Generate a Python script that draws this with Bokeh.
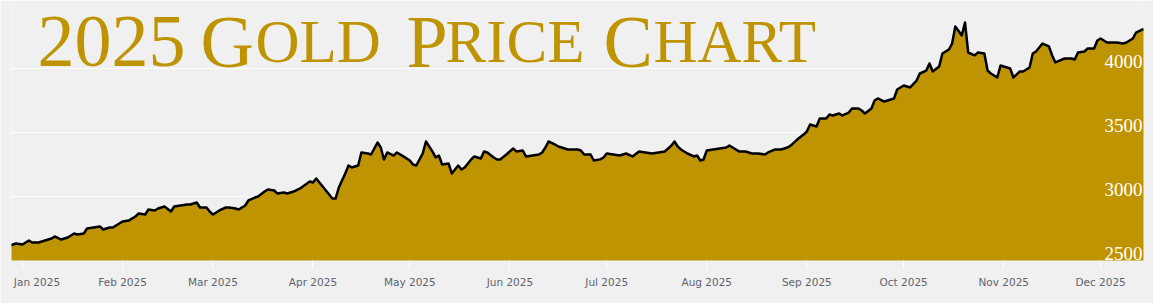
from datetime import datetime
import pandas as pd
from bokeh.plotting import figure
from bokeh.models import Range1d, FixedTicker, Label, Grid, ColumnDataSource, DatetimeTickFormatter
from bokeh.core.properties import value
from bokeh.embed import file_html
from bokeh.resources import INLINE

dates = [
    "2024-12-28", "2024-12-30", "2025-01-01", "2025-01-03", "2025-01-04", "2025-01-06",
    "2025-01-08", "2025-01-10", "2025-01-11", "2025-01-13", "2025-01-15", "2025-01-17",
    "2025-01-18", "2025-01-20", "2025-01-21", "2025-01-23", "2025-01-25", "2025-01-26",
    "2025-01-28", "2025-01-29", "2025-01-31",
    "2025-02-01", "2025-02-03", "2025-02-05", "2025-02-06", "2025-02-08", "2025-02-09",
    "2025-02-11", "2025-02-12", "2025-02-14", "2025-02-16", "2025-02-17", "2025-02-19",
    "2025-02-21", "2025-02-22", "2025-02-24", "2025-02-25", "2025-02-27", "2025-02-28",
    "2025-03-01", "2025-03-03", "2025-03-05", "2025-03-06", "2025-03-08", "2025-03-09",
    "2025-03-11", "2025-03-12", "2025-03-14", "2025-03-15", "2025-03-17", "2025-03-18",
    "2025-03-20", "2025-03-21", "2025-03-23", "2025-03-24", "2025-03-26", "2025-03-28",
    "2025-03-31",
    "2025-04-01", "2025-04-02", "2025-04-03", "2025-04-05", "2025-04-07", "2025-04-08",
    "2025-04-09", "2025-04-11", "2025-04-12", "2025-04-13", "2025-04-15", "2025-04-16",
    "2025-04-18", "2025-04-19", "2025-04-21", "2025-04-22", "2025-04-23", "2025-04-24",
    "2025-04-26", "2025-04-27", "2025-04-29",
    "2025-05-01", "2025-05-02", "2025-05-03", "2025-05-05", "2025-05-06", "2025-05-08",
    "2025-05-09", "2025-05-10", "2025-05-11", "2025-05-13", "2025-05-14", "2025-05-16",
    "2025-05-17", "2025-05-18", "2025-05-20", "2025-05-21", "2025-05-23", "2025-05-24",
    "2025-05-25", "2025-05-27", "2025-05-28", "2025-05-29", "2025-05-31",
    "2025-06-02", "2025-06-03", "2025-06-05", "2025-06-06", "2025-06-08", "2025-06-10",
    "2025-06-11", "2025-06-12", "2025-06-13", "2025-06-15", "2025-06-16", "2025-06-17",
    "2025-06-19", "2025-06-20", "2025-06-22", "2025-06-23", "2025-06-24", "2025-06-26",
    "2025-06-27", "2025-06-29", "2025-06-30",
    "2025-07-01", "2025-07-03", "2025-07-05", "2025-07-07", "2025-07-09", "2025-07-11",
    "2025-07-13", "2025-07-15", "2025-07-17", "2025-07-19", "2025-07-21", "2025-07-22",
    "2025-07-23", "2025-07-24", "2025-07-26", "2025-07-28", "2025-07-29", "2025-07-30",
    "2025-07-31",
    "2025-08-01", "2025-08-03", "2025-08-05", "2025-08-07", "2025-08-08", "2025-08-10",
    "2025-08-11", "2025-08-13", "2025-08-15", "2025-08-17", "2025-08-19", "2025-08-20",
    "2025-08-22", "2025-08-24", "2025-08-26", "2025-08-27", "2025-08-29", "2025-08-31",
    "2025-09-01", "2025-09-02", "2025-09-04", "2025-09-05", "2025-09-07", "2025-09-08",
    "2025-09-09", "2025-09-11", "2025-09-12", "2025-09-14", "2025-09-15", "2025-09-17",
    "2025-09-18", "2025-09-19", "2025-09-21", "2025-09-22", "2025-09-23", "2025-09-25",
    "2025-09-26", "2025-09-28", "2025-09-29",
    "2025-10-01", "2025-10-03", "2025-10-05", "2025-10-06", "2025-10-08", "2025-10-09",
    "2025-10-10", "2025-10-12", "2025-10-13", "2025-10-15", "2025-10-16", "2025-10-17",
    "2025-10-19", "2025-10-20", "2025-10-21", "2025-10-23", "2025-10-24", "2025-10-26",
    "2025-10-27", "2025-10-28", "2025-10-30", "2025-10-31",
    "2025-11-02", "2025-11-03", "2025-11-04", "2025-11-06", "2025-11-07", "2025-11-09",
    "2025-11-10", "2025-11-11", "2025-11-13", "2025-11-15", "2025-11-16", "2025-11-17",
    "2025-11-19", "2025-11-20", "2025-11-22", "2025-11-23", "2025-11-24", "2025-11-26",
    "2025-11-27", "2025-11-29", "2025-11-30",
    "2025-12-01", "2025-12-03", "2025-12-05", "2025-12-06", "2025-12-08", "2025-12-09",
    "2025-12-11", "2025-12-12", "2025-12-14", "2025-12-15",
]

prices = [
    2617, 2633, 2625, 2656, 2641, 2641,
    2656, 2672, 2688, 2664, 2680, 2711,
    2703, 2711, 2750, 2758, 2766, 2742,
    2758, 2758, 2789,
    2805, 2813, 2844, 2867, 2859, 2898,
    2891, 2906, 2922, 2883, 2922, 2930,
    2938, 2938, 2953, 2914, 2914, 2883,
    2859, 2891, 2914, 2914, 2906, 2898,
    2930, 2969, 2992, 3000, 3039, 3055,
    3047, 3023, 3031, 3023, 3039, 3063,
    3117,
    3109, 3141, 3109, 3047, 2984, 2984,
    3070, 3180, 3242, 3227, 3242, 3344,
    3336, 3328, 3422, 3383, 3289, 3344,
    3320, 3344, 3313,
    3281, 3250, 3242, 3336, 3430, 3352,
    3305, 3320, 3250, 3258, 3180, 3242,
    3211, 3227, 3289, 3313, 3297, 3352,
    3344, 3305, 3289, 3289, 3330,
    3375, 3352, 3359, 3313, 3320, 3328,
    3344, 3383, 3430, 3406, 3391, 3383,
    3367, 3367, 3367, 3359, 3328, 3328,
    3281, 3290, 3305,
    3336, 3328, 3320, 3336, 3313, 3352,
    3344, 3336, 3344, 3352, 3397, 3430,
    3391, 3367, 3336, 3313, 3320, 3281,
    3289,
    3359, 3367, 3375, 3383, 3398, 3367,
    3352, 3352, 3336, 3336, 3328, 3344,
    3367, 3367, 3383, 3398, 3445, 3484,
    3508, 3563, 3547, 3609, 3609, 3641,
    3633, 3648, 3633, 3656, 3688, 3688,
    3672, 3648, 3688, 3750, 3766, 3742,
    3750, 3766, 3836,
    3867, 3852, 3906, 3961, 3984, 4039,
    3977, 4016, 4117, 4148, 4195, 4328,
    4258, 4359, 4125, 4102, 4125, 4117,
    3984, 3961, 3930, 4023,
    4008, 4000, 3930, 3977, 3977, 4008,
    4117, 4133, 4195, 4172, 4102, 4047,
    4070, 4078, 4078, 4070, 4125, 4133,
    4156, 4156, 4219,
    4234, 4203, 4203, 4203, 4195, 4203,
    4234, 4281, 4305, 4305,
]

month_ticks = ["2025-01-01", "2025-02-01", "2025-03-01", "2025-04-01", "2025-05-01", "2025-06-01",
               "2025-07-01", "2025-08-01", "2025-09-01", "2025-10-01", "2025-11-01", "2025-12-01"]
grid_ticks = [2500, 3000, 3500, 4000, 4500]
price_labels = [2500, 3000, 3500, 4000]
title_parts = ["2025", "G", "OLD", "P", "RICE", "C", "HART"]

GOLD = "#bf9403"
BG = "#f0f0f0"

x_start = datetime(2024, 12, 28, 14, 24)
x_end = datetime(2025, 12, 14, 7, 12)

src = ColumnDataSource(dict(date=pd.to_datetime(dates), price=prices))

p = figure(width=1153, height=303, output_backend="svg", toolbar_location=None,
           x_axis_type="datetime", y_axis_location=None,
           x_range=Range1d(x_start, x_end), y_range=Range1d(2500, 4500),
           min_border_left=11, min_border_right=10, min_border_top=4, min_border_bottom=43)
p.background_fill_color = BG
p.border_fill_color = BG
p.outline_line_color = None
p.xgrid.visible = False
p.ygrid.visible = False
p.add_layout(Grid(dimension=1, ticker=FixedTicker(ticks=grid_ticks),
                  grid_line_color="white", grid_line_width=1))

p.varea(x="date", y1=2000, y2="price", source=src, fill_color=GOLD)
p.line(x="date", y="price", source=src, line_color="black", line_width=2.5, line_join="round")

lab_src = ColumnDataSource(dict(x=[x_end] * len(price_labels), y=price_labels,
                                t=[str(v) for v in price_labels]))
p.text(x="x", y="y", text="t", source=lab_src, text_align="right", text_baseline="alphabetic",
       x_offset=-1, y_offset=-7, text_color="white", text_font=value("Liberation Serif"),
       text_font_size="19px")

ms = [int(pd.Timestamp(d).value // 10**6) for d in month_ticks]
ax = p.xaxis[0]
ax.ticker = FixedTicker(ticks=ms)
ax.formatter = DatetimeTickFormatter(months="%b %Y", days="%b %Y", years="%b %Y")
# the first label sits a little right of its tick, so that it stays inside the page
ax.major_label_overrides = {ms[0]: "\u00a0" * 4 + "Jan 2025"}
ax.axis_line_color = None
ax.major_tick_line_color = "white"
ax.major_tick_in = 0
ax.major_tick_out = 9
ax.minor_tick_line_color = None
ax.major_label_standoff = 6
ax.major_label_text_font = "DejaVu Sans"
ax.major_label_text_font_size = "10.5px"
ax.major_label_text_color = "#5f646e"

big, small = "74px", "61px"
sizes = [big, big, small, big, small, big, small]
xs = [26, 189, 244, 395, 434, 592, 642]
for txt, sz, xx in zip(title_parts, sizes, xs):
    p.add_layout(Label(x=xx, y=219, x_units="screen", y_units="screen", text=txt,
                       text_font="Liberation Serif", text_font_size=sz, text_color=GOLD,
                       text_baseline="alphabetic", text_align="left"))

open("out.html", "w").write(file_html(p, INLINE))
